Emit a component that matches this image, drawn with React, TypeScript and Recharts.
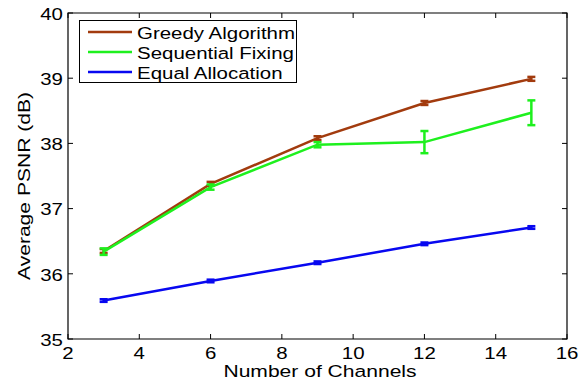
import React from 'react';
import { LineChart, Line, XAxis, YAxis, ErrorBar, ReferenceArea } from 'recharts';

// number of channels on the x axis
const channels = [3, 6, 9, 12, 15];

// average PSNR (dB) per method, with half-width of the error bars
const greedy = [36.35, 37.38, 38.08, 38.62, 38.99];
const greedyErr = [0.03, 0.03, 0.03, 0.03, 0.03];
const sequential = [36.34, 37.33, 37.98, 38.02, 38.47];
const sequentialErr = [0.05, 0.04, 0.04, 0.17, 0.19];
const equal = [35.59, 35.89, 36.17, 36.46, 36.71];
const equalErr = [0.02, 0.02, 0.02, 0.02, 0.02];

const xTicks = [2, 4, 6, 8, 10, 12, 14, 16];
const yTicks = [35, 36, 37, 38, 39, 40];

const series = [
  { key: 'greedy', err: 'greedyErr', name: 'Greedy Algorithm', color: '#a23b0e' },
  { key: 'sequential', err: 'sequentialErr', name: 'Sequential Fixing', color: '#1ef01e' },
  { key: 'equal', err: 'equalErr', name: 'Equal Allocation', color: '#0808f0' },
];

const data = channels.map((c, i) => ({
  channels: c,
  greedy: greedy[i],
  greedyErr: greedyErr[i],
  sequential: sequential[i],
  sequentialErr: sequentialErr[i],
  equal: equal[i],
  equalErr: equalErr[i],
}));

const W = 586;
const H = 383;
const PLOT = { left: 68, right: 567, top: 13, bottom: 339 };
const TICK_LEN = 5;
const FONT = '"Liberation Sans", Arial, sans-serif';
const STRETCH = 1.24;

// MATLAB-style ticks: pointing inward, mirrored on the opposite side
const XTick = (props: any) => {
  const { x, payload } = props;
  return (
    <g>
      <line x1={x} x2={x} y1={PLOT.bottom} y2={PLOT.bottom - TICK_LEN} stroke="#000" />
      <line x1={x} x2={x} y1={PLOT.top} y2={PLOT.top + TICK_LEN} stroke="#000" />
      <text
        transform={`translate(${x},${PLOT.bottom + 14}) scale(${STRETCH},1)`}
        textAnchor="middle"
        dominantBaseline="central"
        fontSize={16.5}
        fontFamily={FONT}
        fill="#000"
      >
        {payload.value}
      </text>
    </g>
  );
};

const YTick = (props: any) => {
  const { y, payload } = props;
  return (
    <g>
      <line x1={PLOT.left} x2={PLOT.left + TICK_LEN} y1={y} y2={y} stroke="#000" />
      <line x1={PLOT.right} x2={PLOT.right - TICK_LEN} y1={y} y2={y} stroke="#000" />
      <text
        transform={`translate(${PLOT.left - 5},${y + 1}) scale(${STRETCH},1)`}
        textAnchor="end"
        dominantBaseline="central"
        fontSize={16.5}
        fontFamily={FONT}
        fill="#000"
      >
        {payload.value}
      </text>
    </g>
  );
};

const XTitle = () => (
  <text
    transform={`translate(320,377) scale(${STRETCH},1)`}
    textAnchor="middle"
    fontSize={17}
    fontFamily={FONT}
    fill="#000"
  >
    Number of Channels
  </text>
);

const YTitle = () => (
  <text
    transform={`translate(30,186) rotate(-90) scale(${STRETCH},1)`}
    textAnchor="middle"
    fontSize={17}
    fontFamily={FONT}
    fill="#000"
  >
    Average PSNR (dB)
  </text>
);

// boxed legend in the upper left of the axes
const LegendBox = () => (
  <svg
    width={220}
    height={66}
    style={{ position: 'absolute', left: 78, top: 19 }}
  >
    <rect x={1.5} y={1.5} width={217} height={62} fill="#fff" stroke="#000" strokeWidth={1} />
    {series.map((s, i) => {
      const cy = 13 + i * 20;
      return (
        <g key={s.key}>
          <line x1={10} x2={54} y1={cy} y2={cy} stroke={s.color} strokeWidth={2.5} />
          <text
            transform={`translate(59,${cy + 1}) scale(${STRETCH},1)`}
            dominantBaseline="central"
            fontSize={16.5}
            fontFamily={FONT}
            fill="#000"
          >
            {s.name}
          </text>
        </g>
      );
    })}
  </svg>
);

export default function App() {
  return (
    <div style={{ position: 'absolute', left: 0, top: 0, width: W, height: H, background: '#fff' }}>
      <LineChart
        width={W}
        height={H}
        data={data}
        margin={{ top: PLOT.top, right: W - PLOT.right, bottom: 0, left: 0 }}
      >
        <XAxis
          type="number"
          dataKey="channels"
          domain={[2, 16]}
          ticks={xTicks}
          interval={0}
          axisLine={false}
          tickLine={false}
          height={H - PLOT.bottom}
          tick={<XTick />}
          label={{ content: <XTitle /> }}
        />
        <YAxis
          type="number"
          domain={[35, 40]}
          ticks={yTicks}
          interval={0}
          axisLine={false}
          tickLine={false}
          width={PLOT.left}
          tick={<YTick />}
          label={{ content: <YTitle /> }}
        />
        <ReferenceArea x1={2} x2={16} y1={35} y2={40} fill="none" stroke="#000" strokeWidth={1.2} />
        {series.map((s) => (
          <Line
            key={s.key}
            type="linear"
            dataKey={s.key}
            name={s.name}
            stroke={s.color}
            strokeWidth={2.5}
            dot={false}
            activeDot={false}
            isAnimationActive={false}
          >
            <ErrorBar dataKey={s.err} width={4} stroke={s.color} strokeWidth={2.5} direction="y" />
          </Line>
        ))}
      </LineChart>
      <LegendBox />
    </div>
  );
}
